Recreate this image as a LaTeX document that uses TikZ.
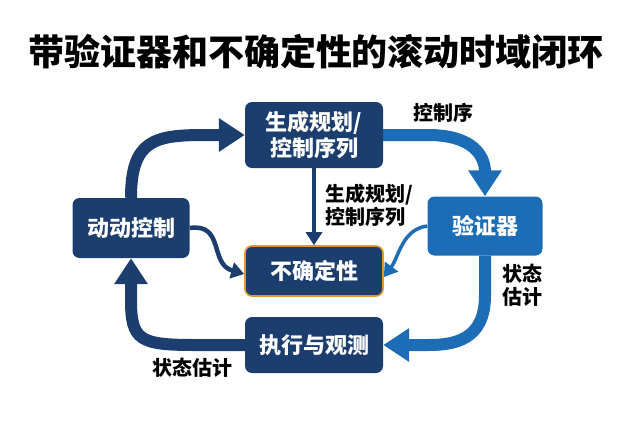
\documentclass[tikz,border=0pt]{standalone}
\usepackage{fontspec}
\newfontfamily\cjk{Noto Sans CJK SC}
\usepackage{tikz}
\usetikzlibrary{arrows.meta,positioning,calc,backgrounds}
\definecolor{navy}{HTML}{1B3E6F}
\definecolor{midblue}{HTML}{1C6DB5}
\definecolor{warnorange}{HTML}{E8952E}

\begin{document}
\begin{tikzpicture}[
  x=1pt, y=-1pt,
  box/.style={fill=navy, rounded corners=7pt, align=center, text=white,
    font=\cjk\bfseries\fontsize{22}{26}\selectfont, inner sep=0pt},
  vbox/.style={box, fill=midblue},
  ubox/.style={box, draw=warnorange, line width=1.6pt},
  lbl/.style={align=left, font=\cjk\bfseries\fontsize{20}{23}\selectfont},
  bigarr/.style={line width=12pt, -{Triangle[length=26pt 0 0,width=32pt 0 0]}},
  thinarr/.style={line width=3.5pt, -{Triangle[length=13pt 0 0,width=16pt 0 0]}}
]
\useasboundingbox (0,0) rectangle (632,424);
%% ─── Title ─────────────────────────────────────────────────────────────────
\node[font=\cjk\bfseries\fontsize{36}{40}\selectfont] (title) at (316,52) {带验证器和不确定性的滚动时域闭环};
%% ─── Boxes ─────────────────────────────────────────────────────────────────
\node[box,  minimum width=138pt, minimum height=66pt] (plan) at (314,135) {生成规划/\\控制序列};
\node[box,  minimum width=117pt, minimum height=60pt] (ctl)  at (131,228) {动动控制};
\node[ubox, minimum width=138pt, minimum height=50pt] (unc)  at (314,271) {不确定性};
\node[vbox, minimum width=115pt, minimum height=59pt] (ver)  at (485,226) {验证器};
\node[box,  minimum width=138pt, minimum height=56pt] (exe)  at (314,345) {执行与观测};
%% ─── Loop arrows ───────────────────────────────────────────────────────────
\begin{scope}[on background layer]
\draw[bigarr, navy] (ctl.north) .. controls +(0,-58) and +(-50,0) .. ([xshift=-40pt]plan.west) -- (plan.west);
\draw[bigarr, midblue] (plan.east) -- ([xshift=45pt]plan.east) .. controls +(45,0) and +(0,-40) .. (ver.north);
\draw[bigarr, midblue] (ver.south) -- ([yshift=-40pt]ver.south) .. controls +(0,45) and +(25,0) .. ([xshift=45pt]exe.east) -- (exe.east);
\draw[bigarr, navy] (exe.west) -- ([xshift=-50pt]exe.west) .. controls +(-55,0) and +(0,40) .. ([yshift=-42pt]ctl.south) -- (ctl.south);
%% ─── Into uncertainty ──────────────────────────────────────────────────────
\draw[thinarr, navy] (plan.south) -- (unc.north);
\draw[thinarr, navy, line width=4.5pt] (ctl.east) .. controls +(35,-5) and +(-35,-10) .. ([yshift=-3pt]unc.west);
\draw[thinarr, midblue] (ver.west) .. controls +(-25,3) and +(15,-20) .. ([yshift=-6pt]unc.east);
\end{scope}
%% ─── Labels ────────────────────────────────────────────────────────────────
\node[lbl] (lplan) at (443,113) {控制序};
\node[lbl, anchor=west] (lseq) at (322,205) {生成规划/\\控制序列};
\node[lbl] (lest1) at (522,285) {状态\\估计};
\node[lbl] (lest2) at (192,368) {状态估计};
\end{tikzpicture}
\end{document}
